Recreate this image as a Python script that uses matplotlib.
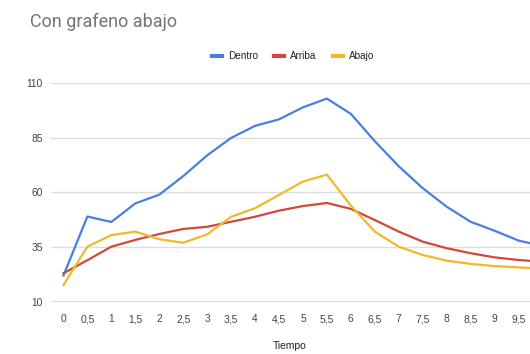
import matplotlib
matplotlib.use("Agg")
import matplotlib.pyplot as plt
from matplotlib.lines import Line2D

# Time steps (category axis) and their labels
tiempo = [0, 0.5, 1, 1.5, 2, 2.5, 3, 3.5, 4, 4.5, 5, 5.5, 6, 6.5, 7, 7.5, 8, 8.5, 9, 9.5, 10]
tick_labels = ["0", "0,5", "1", "1,5", "2", "2,5", "3", "3,5", "4", "4,5", "5",
               "5,5", "6", "6,5", "7", "7,5", "8", "8,5", "9", "9,5"]

# Series values
dentro = [22, 49, 46.5, 55, 59, 67.5, 77, 85, 90.5, 93.5, 99, 103, 96, 83.5, 72, 62, 53.5, 46.6, 42.5, 38, 35.5]
arriba = [23, 29, 35.2, 38.3, 41, 43.3, 44.3, 46.6, 48.9, 51.7, 53.8, 55.2, 52.5, 47.4, 42.1, 37.5, 34.5, 32.2, 30.3, 29.1, 28.3]
abajo = [17.6, 35.2, 40.5, 42.1, 38.6, 37, 40.8, 48.9, 52.8, 58.9, 65, 68.2, 54, 42.1, 35.2, 31.4, 28.8, 27.3, 26.3, 25.7, 25.2]

yticks = [10, 35, 60, 85, 110]

series_names = ["Dentro", "Arriba", "Abajo"]
series_colors = ["#4a7fdc", "#d3473b", "#f0b92c"]

plt.rcParams["font.family"] = ["Liberation Sans", "DejaVu Sans"]

fig = plt.figure(figsize=(5.30, 3.54), dpi=100)
ax = fig.add_axes([51 / 530, 52.3 / 354, 1 - 51 / 530, 218.4 / 354])

for vals, color in zip([dentro, arriba, abajo], series_colors):
    ax.plot(tiempo, vals, color=color, lw=1.6, solid_joinstyle="round", zorder=3)

ax.set_xlim(-0.26, 9.74)
ax.set_ylim(10, 110)
ax.set_yticks(yticks)
ax.set_yticklabels([str(v) for v in yticks])
ax.set_xticks(tiempo[:len(tick_labels)])
ax.set_xticklabels(tick_labels)

ax.grid(axis="y", color="#dddddd", lw=1.0, zorder=0)
ax.axhline(10, color="#cfcfcf", lw=1.2, zorder=1)
for s in ax.spines.values():
    s.set_visible(False)
ax.tick_params(axis="both", length=0, labelsize=7.4, labelcolor="#444444")
ax.tick_params(axis="y", pad=6)
ax.tick_params(axis="x", pad=9)

fig.text(30 / 530, 1 - 22 / 354, "Con grafeno abajo", fontsize=13, color="#757575",
         family=["Roboto", "DejaVu Sans"], va="center", ha="left")
fig.text(290 / 530, 1 - 346 / 354, "Tiempo", fontsize=7.4, color="#222222",
         ha="center", va="center")

handles = [Line2D([], [], color=c, lw=3) for c in series_colors]
fig.legend(handles, series_names, loc="center", bbox_to_anchor=(293 / 530, 1 - 56 / 354),
           ncol=3, frameon=False, fontsize=7.2, handlelength=1.0, handletextpad=0.6,
           columnspacing=1.6, labelcolor="#222222")

fig.savefig("out.png", dpi=100)
